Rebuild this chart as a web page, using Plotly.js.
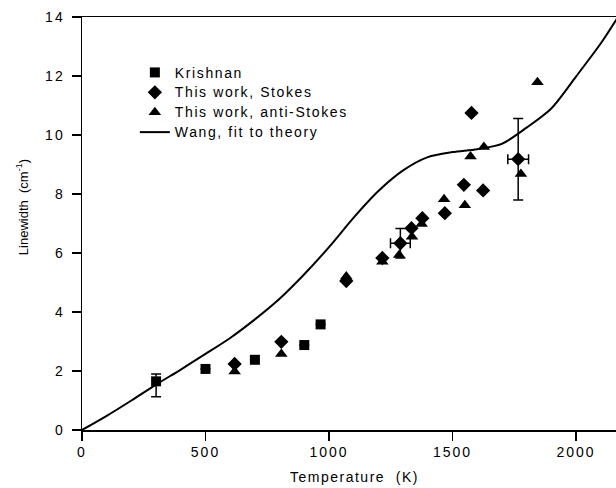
<!DOCTYPE html>
<html><head><meta charset="utf-8">
<script src="https://cdn.plot.ly/plotly-3.0.1.min.js"></script>
<style>
html,body{margin:0;padding:0;background:#fff}
#chart{width:616px;height:488px}
#chart g.xtick text, #chart g.ytick text{letter-spacing:2px}
#chart text.legendtext{font-size:14px !important; letter-spacing:1.6px}
#chart g.legend, #chart g.legend g.scrollbox{clip-path:none !important}
#chart g.annotation text.xt{letter-spacing:1.5px}
</style>
</head><body><div id="chart"></div>
<script>
// Krishnan (squares)
const krishT = [300, 500, 700, 900, 966];
const krishW = [1.65, 2.07, 2.38, 2.88, 3.58];
const krishErrUp = [0.25, null, null, null, null];
const krishErrDown = [0.52, null, null, null, null];

// This work, Stokes (diamonds)
const stokesT = [618, 807, 1070, 1216, 1289, 1334, 1378, 1469, 1546, 1577, 1624, 1766];
const stokesW = [2.24, 2.99, 5.05, 5.83, 6.33, 6.84, 7.18, 7.35, 8.31, 10.75, 8.12, 9.18];
const stokesErrY = [null, null, null, null, 0.5, null, null, null, null, null, null, 1.38];
const stokesErrX = [null, null, null, null, 40, null, null, null, null, null, null, 42];

// This work, anti-Stokes (triangles)
const antiT = [618, 807, 1070, 1216, 1284, 1336, 1375, 1466, 1550, 1573, 1627, 1777, 1844];
const antiW = [1.98, 2.58, 5.2, 5.70, 5.93, 6.55, 6.98, 7.82, 7.62, 9.27, 9.59, 8.68, 11.79];

// Wang, fit to theory (curve)
const wangT = [0, 100, 200, 300, 400, 500, 600, 700, 800, 900, 1000, 1100, 1200, 1300, 1400, 1500, 1600, 1700, 1800, 1900, 2000, 2100, 2170];
const wangW = [0, 0.48, 1.0, 1.54, 2.05, 2.58, 3.12, 3.75, 4.45, 5.28, 6.2, 7.2, 8.1, 8.8, 9.25, 9.42, 9.52, 9.7, 10.25, 10.9, 11.98, 13.1, 14.0];

// Tick labels and titles
const xTicks = [0, 500, 1000, 1500, 2000];
const xTitle = 'Temperature  (K)';
const yTitle = 'Linewidth  (cm<sup>-1</sup>)';

const fam = '"Liberation Sans", Arial, Helvetica, sans-serif';
const tickFont = {family: fam, color: '#000', size: 14};

const traces = [
  {x: krishT, y: krishW, type: 'scatter', mode: 'markers', name: 'Krishnan',
   marker: {symbol: 'square', size: 10, color: '#000'},
   error_y: {type: 'data', symmetric: false, array: krishErrUp, arrayminus: krishErrDown, color: '#000', thickness: 1.5, width: 5}},
  {x: stokesT, y: stokesW, type: 'scatter', mode: 'markers', name: 'This work, Stokes',
   marker: {symbol: 'diamond', size: 11, color: '#000'},
   error_y: {type: 'data', array: stokesErrY, color: '#000', thickness: 1.5, width: 5},
   error_x: {type: 'data', array: stokesErrX, color: '#000', thickness: 1.5, width: 5}},
  {x: antiT, y: antiW, type: 'scatter', mode: 'markers', name: 'This work, anti-Stokes',
   marker: {symbol: 'triangle-up', size: 11, color: '#000'}},
  {x: wangT, y: wangW, type: 'scatter', mode: 'lines', name: 'Wang, fit to theory',
   line: {color: '#000', width: 2, shape: 'spline', smoothing: 0.8}}
];

const layout = {
  width: 616, height: 488,
  margin: {l: 82, r: 0, t: 17, b: 58, pad: 0},
  paper_bgcolor: '#fff', plot_bgcolor: '#fff',
  font: {family: fam, color: '#000', size: 13},
  showlegend: true,
  legend: {x: 0.099, y: 0.902, xanchor: 'left', yanchor: 'top', bgcolor: 'rgba(0,0,0,0)',
           font: {family: fam, size: 13, color: '#000'}, tracegroupgap: 0, itemwidth: 30},
  xaxis: {range: [0, 2162], tickvals: xTicks, ticks: 'outside', ticklen: 9, tickwidth: 1.2,
          tickcolor: '#000', showline: true, linecolor: '#000', linewidth: 1.5, mirror: true,
          showgrid: false, zeroline: false, tickfont: tickFont},
  yaxis: {range: [0, 14], dtick: 2, ticks: 'outside', ticklen: 9, tickwidth: 1.2,
          tickcolor: '#000', showline: true, linecolor: '#000', linewidth: 1.5,
          showgrid: false, zeroline: false, tickfont: tickFont, ticklabelstandoff: 4},
  annotations: [
    {text: xTitle, xref: 'paper', yref: 'paper', x: 0.511, y: -0.114, xanchor: 'center', yanchor: 'middle',
     showarrow: false, font: {family: fam, size: 14, color: '#000'}},
    {text: yTitle, xref: 'paper', yref: 'paper', x: -0.112, y: 0.54, xanchor: 'center', yanchor: 'middle',
     textangle: -90, showarrow: false, font: {family: fam, size: 13, color: '#000'}}
  ]
};

Plotly.newPlot('chart', traces, layout, {displayModeBar: false, staticPlot: true}).then(function(){
  const ann = document.querySelectorAll('#chart g.annotation text');
  if (ann.length) ann[0].classList.add('xt');
});
</script></body></html>
